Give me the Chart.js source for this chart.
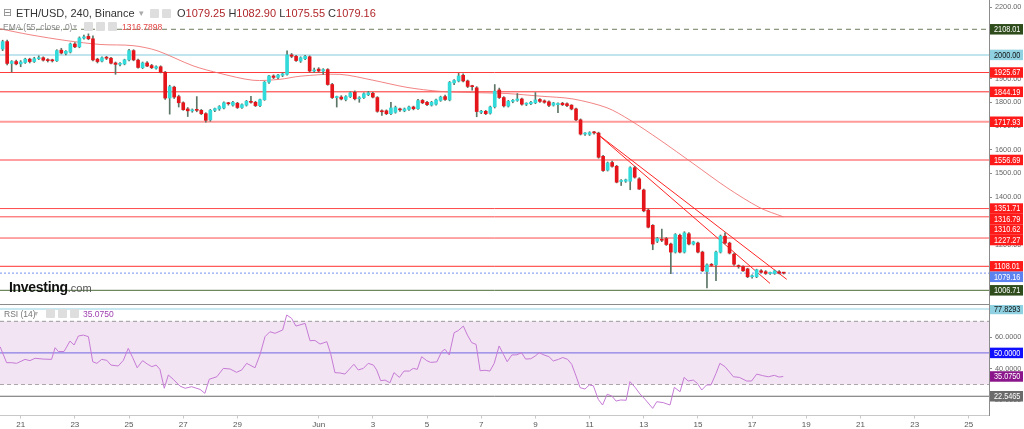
<!DOCTYPE html>
<html>
<head>
<meta charset="utf-8">
<script src="https://cdn.jsdelivr.net/npm/chart.js@4.4.1/dist/chart.umd.min.js"></script>
<style>
  html, body { margin:0; padding:0; background:#fff; }
  body { width:1024px; height:429px; overflow:hidden; position:relative; font-family:"Liberation Sans", Arial, sans-serif; }
  canvas { position:absolute; left:0; }
  #priceCanvas { top:0; }
  #rsiCanvas { top:305px; }
  #sep { position:absolute; left:0; top:304px; width:990px; height:1px; background:#8c8c8c; }
  .t { position:absolute; white-space:nowrap; line-height:1; }
  .ic { position:absolute; width:9px; height:9px; background:#dedede; border-radius:1px; }
</style>
</head>
<body>
<canvas id="priceCanvas" width="1024" height="304"></canvas>
<canvas id="rsiCanvas" width="1024" height="124"></canvas>
<div id="sep"></div>

<div class="t" style="left:3px;top:7px;font-size:11px;color:#888;font-family:'DejaVu Sans'">⊟</div>
<div class="t" style="left:16px;top:8px;font-size:11px;color:#333">ETH/USD, 240, Binance</div>
<div class="t" style="left:139px;top:9px;font-size:9px;color:#aaa">▾</div>
<div class="ic" style="left:150px;top:9px"></div>
<div class="ic" style="left:162px;top:9px"></div>
<div class="t" style="left:177px;top:8px;font-size:11px;color:#333">O<span style="color:#b0262a">1079.25</span> H<span style="color:#b0262a">1082.90</span> L<span style="color:#b0262a">1075.55</span> C<span style="color:#b0262a">1079.16</span></div>

<div class="t" style="left:3px;top:23px;font-size:8.5px;color:#888">EMA (55, close, 0)</div>
<div class="t" style="left:73px;top:23px;font-size:8px;color:#bbb">▾</div>
<div class="ic" style="left:84px;top:22px"></div>
<div class="ic" style="left:96px;top:22px"></div>
<div class="ic" style="left:108px;top:22px"></div>
<div class="t" style="left:122px;top:23px;font-size:8.5px;color:#e34545">1316.7898</div>

<div class="t" style="left:9px;top:280px;font-size:14px;font-weight:bold;color:#111;letter-spacing:-0.3px">Investing<span style="font-weight:normal;font-size:11px;color:#555;letter-spacing:0">.com</span></div>

<div class="t" style="left:4px;top:310px;font-size:8.5px;color:#777">RSI (14)</div>
<div class="t" style="left:34px;top:310px;font-size:8px;color:#bbb">▾</div>
<div class="ic" style="left:46px;top:309px"></div>
<div class="ic" style="left:58px;top:309px"></div>
<div class="ic" style="left:70px;top:309px"></div>
<div class="t" style="left:83px;top:310px;font-size:8.5px;color:#a040b0">35.0750</div>

<script>
// ---------- DATA ----------
// time unit: day of month counted from May (May 21 = 21, Jun 1 = 32)
const firstCandleDay = 20 + 8/24;   // May 20 08:00
const candleStep = 4/24;            // 240 minutes
const open = [
2025,2056,1964,1972,1962,1968,1982,1972,1984,1988,
1978,1976,1975,2020,2006,2012,2046,2034,2071,2078,
2068,1982,1974,1988,1986,1966,1960,1962,1979,2018,
1978,1946,1966,1955,1944,1950,1927,1818,1864,1824,
1798,1772,1764,1767,1766,1752,1726,1766,1772,1776,
1796,1788,1796,1778,1788,1802,1800,1786,1811,1885,
1911,1905,1914,1918,2000,1994,1974,1984,1992,1932,
1940,1932,1938,1875,1820,1822,1812,1824,1842,1815,
1820,1832,1838,1820,1762,1764,1752,1758,1770,1764,
1770,1780,1773,1808,1800,1788,1792,1808,1824,1810,
1882,1890,1914,1890,1868,1861,1758,1762,1754,1781,
1852,1820,1784,1804,1808,1814,1792,1794,1798,1812,
1806,1802,1788,1790,1796,1794,1788,1772,1726,1666,
1665,1672,1670,1572,1514,1546,1530,1466,1467,1467,
1524,1477,1430,1345,1281,1214,1220,1225,1202,1168,
1239,1168,1245,1202,1206,1168,1086,1114,1114,1168,
1235,1206,1159,1110,1107,1097,1064,1064,1089,1085,
1078,1078,1085,1079.25];
const high = [
2062,2062,1976,1978,1976,1986,1986,1990,1996,1992,
1984,1982,2022,2028,2018,2050,2052,2076,2084,2089,
2080,1986,1992,1994,1990,1970,1968,1982,2024,2022,
1982,1970,1972,1960,1954,1954,1930,1872,1868,1830,
1802,1778,1772,1824,1770,1756,1770,1776,1786,1802,
1800,1804,1800,1794,1808,1825,1804,1814,1888,1914,
1916,1918,1924,2017,2006,1998,1992,1998,1996,1944,
1946,1942,1942,1880,1826,1828,1828,1844,1848,1824,
1840,1846,1842,1824,1768,1768,1800,1784,1776,1776,
1784,1784,1812,1812,1804,1804,1814,1826,1830,1888,
1896,1922,1920,1894,1872,1866,1766,1766,1784,1875,
1860,1824,1808,1812,1837,1818,1798,1804,1841,1816,
1810,1806,1800,1798,1800,1798,1790,1776,1730,1672,
1676,1678,1674,1576,1548,1552,1534,1474,1476,1528,
1530,1482,1434,1350,1284,1230,1265,1230,1206,1246,
1244,1254,1250,1214,1210,1172,1118,1120,1172,1240,
1249,1210,1164,1114,1110,1100,1072,1096,1094,1090,
1084,1092,1090,1082.9];
const low = [
2018,1958,1928,1958,1950,1964,1966,1968,1980,1974,
1970,1970,1972,2004,2000,2008,2030,2030,2066,2064,
1975,1966,1970,1980,1962,1918,1954,1958,1975,1975,
1944,1942,1950,1942,1940,1924,1812,1750,1816,1780,
1766,1740,1758,1760,1748,1716,1720,1760,1766,1772,
1788,1784,1774,1774,1784,1796,1782,1782,1808,1880,
1900,1900,1908,1914,1988,1972,1968,1980,1928,1926,
1928,1918,1872,1816,1780,1810,1806,1820,1810,1800,
1816,1828,1818,1758,1745,1748,1748,1754,1762,1760,
1766,1768,1770,1794,1786,1784,1788,1804,1808,1806,
1874,1886,1886,1862,1851,1739,1752,1748,1750,1776,
1816,1780,1780,1798,1804,1788,1786,1790,1794,1800,
1796,1782,1784,1756,1786,1782,1768,1722,1662,1660,
1660,1666,1564,1508,1510,1526,1460,1449,1462,1431,
1480,1432,1338,1270,1178,1208,1212,1196,1077,1164,
1164,1164,1198,1198,1164,1086,1017,1108,1047,1164,
1202,1160,1112,1100,1086,1060,1058,1060,1080,1074,
1074,1074,1076,1075.55];
const close = [
2056,1964,1972,1962,1970,1982,1972,1984,1988,1978,
1976,1975,2018,2008,2015,2046,2034,2071,2076,2068,
1979,1972,1988,1986,1965,1960,1963,1979,2018,1979,
1947,1966,1953,1946,1950,1927,1818,1866,1822,1798,
1769,1764,1767,1766,1752,1724,1766,1773,1782,1798,
1794,1800,1778,1790,1804,1800,1786,1811,1885,1911,
1905,1915,1920,2000,1994,1976,1988,1994,1932,1936,
1932,1938,1875,1820,1822,1814,1824,1840,1815,1818,
1836,1840,1822,1762,1760,1752,1776,1778,1768,1772,
1780,1773,1807,1798,1790,1800,1810,1822,1812,1884,
1892,1911,1890,1867,1866,1761,1762,1752,1780,1847,
1820,1785,1804,1808,1814,1792,1794,1800,1810,1804,
1800,1787,1797,1795,1790,1786,1772,1726,1666,1667,
1672,1671,1568,1512,1544,1530,1463,1470,1473,1524,
1484,1434,1342,1273,1202,1225,1218,1200,1168,1242,
1168,1249,1202,1211,1168,1089,1114,1112,1168,1235,
1206,1164,1117,1107,1089,1064,1065,1093,1083,1078,
1079,1089,1079,1079.16];

const emaDays = [20.24,21.34,22.71,23.93,25.15,26.03,27.36,28.36,29.58,30.57,31.31,32.79,34.01,35.26,36.48,37.70,38.95,40.17,41.39,42.64,43.49,44.60,45.82,47.07,48.29,49.15];
const emaValues = [2110,2085,2060,2044,2039,2018,1954,1922,1893,1897,1910,1918,1893,1863,1846,1841,1837,1826,1814,1777,1725,1641,1542,1440,1355,1316.79];

const trendA_days = [42.26, 48.66];
const trendA_prices = [1669, 1036];
const trendB_days = [42.26, 49.28];
const trendB_prices = [1669, 1053];

const priceLevels = [2108.01, 2000.00, 1925.67, 1844.19, 1717.93, 1556.69, 1351.71, 1316.79, 1227.27, 1108.01, 1079.16, 1006.71];
const priceTags   = [2108.01, 2000.00, 1925.67, 1844.19, 1717.93, 1556.69, 1351.71, 1316.79, 1310.62, 1227.27, 1108.01, 1079.16, 1006.71];
const priceTicks  = [1000,1100,1200,1300,1400,1500,1600,1700,1800,1900,2000,2100,2200];

const rsiDays = [20.24,20.48,20.67,20.85,21.16,21.34,21.53,21.83,22.14,22.27,22.39,22.60,22.82,22.97,23.13,23.31,23.50,23.66,23.81,23.99,24.18,24.33,24.60,24.79,24.97,25.13,25.30,25.50,25.67,25.84,26.00,26.14,26.30,26.45,26.63,26.88,27.07,27.31,27.62,27.80,27.96,28.24,28.48,28.73,28.97,29.16,29.34,29.65,29.83,30.02,30.20,30.39,30.67,30.82,31.00,31.16,31.50,31.68,31.86,32.05,32.30,32.44,32.60,32.79,32.97,33.30,33.46,33.65,33.83,34.02,34.14,34.29,34.45,34.63,34.78,34.98,35.15,35.35,35.49,35.64,35.80,35.99,36.13,36.36,36.54,36.66,36.82,37.00,37.15,37.34,37.49,37.65,37.81,37.96,38.14,38.32,38.48,38.66,38.82,38.96,39.13,39.31,39.49,39.64,39.83,39.99,40.14,40.32,40.50,40.66,40.85,41.01,41.19,41.34,41.50,41.65,41.83,41.99,42.14,42.32,42.48,42.65,42.82,42.98,43.15,43.35,43.49,43.68,43.86,44.05,44.33,44.48,44.72,44.97,45.13,45.34,45.49,45.64,45.83,45.98,46.14,46.32,46.48,46.67,46.81,47.00,47.31,47.53,47.80,47.98,48.17,48.39,48.60,48.82,49.00,49.15];
const rsiValues = [53.9,43.8,43.8,43.4,45.9,45.1,46.6,46.1,45.9,53.3,50.9,50.9,57.5,55.0,60.7,61.3,60.3,44.4,43.4,45.9,45.3,42.3,41.7,45.3,52.9,47.2,40.6,45.1,43.0,41.3,42.3,39.6,27.6,36.0,33.3,29.0,27.6,28.6,26.9,24.4,33.3,34.9,40.2,39.8,37.7,39.2,43.4,40.6,48.7,60.3,63.4,62.4,64.5,74.0,71.9,67.0,68.7,57.7,57.9,55.6,57.1,49.7,37.5,37.3,36.6,42.8,39.2,40.2,43.4,42.3,39.2,32.4,32.8,31.1,37.5,34.5,38.5,38.5,40.2,39.6,47.6,45.1,44.0,44.3,50.8,52.3,48.7,62.8,64.1,67.0,61.3,56.5,55.4,38.7,39.0,38.5,43.4,54.4,49.1,44.4,48.7,48.8,50.1,46.1,46.3,48.0,50.1,48.7,47.6,44.9,45.9,47.1,45.9,42.8,35.4,28.0,27.1,29.7,29.2,20.6,17.0,23.8,22.7,19.5,20.2,20.0,31.8,28.2,24.0,20.6,14.9,19.1,18.5,17.0,28.2,25.4,34.5,32.2,32.8,30.7,26.5,29.7,29.7,37.1,43.4,41.3,34.9,34.5,32.2,32.2,36.6,35.6,34.9,35.8,34.7,35.075];

const rsiLevels = [77.8293, 70, 50, 30, 22.5465];
const rsiTags   = [77.8293, 50, 35.075, 22.5465];
const rsiTicks  = [20, 40, 60];

const tickDays   = [21,23,25,27,29,32,34,36,38,40,42,44,46,48,50,52,54,56];
const tickLabels = ['21','23','25','27','29','Jun','3','5','7','9','11','13','15','17','19','21','23','25'];

// ---------- STYLES ----------
const xMin = 20.236, xMax = 56.745;
const UP = '#33dada', DOWN = '#e4161c', WICK = '#5b7566';
const FONT = 'Liberation Sans';
const priceLevelStyle = [
  {c:'#6d7d5d', w:1,   d:[5,4]},
  {c:'#acdde9', w:1.5, d:[]},
  {c:'#ff3b3b', w:1,   d:[]},
  {c:'#ff2a2a', w:1,   d:[]},
  {c:'#ff9a9a', w:2,   d:[]},
  {c:'#ffa0a0', w:2,   d:[]},
  {c:'#ff4a4a', w:1,   d:[]},
  {c:'#ff4a4a', w:1,   d:[]},
  {c:'#ff4a4a', w:1,   d:[]},
  {c:'#ff3030', w:1,   d:[]},
  {c:'#a3b6f5', w:1.5, d:[2,2]},
  {c:'#4e6e3a', w:1,   d:[]}
];
const priceTagStyle = [
  {bg:'#2f4d1c', fg:'#fff'}, {bg:'#8fd1e1', fg:'#111'},
  {bg:'#ff1a1a', fg:'#fff'}, {bg:'#ff1a1a', fg:'#fff'}, {bg:'#ff1a1a', fg:'#fff'}, {bg:'#ff1a1a', fg:'#fff'},
  {bg:'#ff1a1a', fg:'#fff'}, {bg:'#ff1a1a', fg:'#fff'}, {bg:'#ff1a1a', fg:'#fff'}, {bg:'#ff1a1a', fg:'#fff'},
  {bg:'#ff1a1a', fg:'#fff'}, {bg:'#5b82f0', fg:'#fff'}, {bg:'#2f4d1c', fg:'#fff'}
];
const rsiLevelStyle = [
  {c:'#b5e0ec', w:1.5, d:[]},
  {c:'#9a9a9a', w:1,   d:[4,3]},
  {c:'#4646e6', w:1.2, d:[]},
  {c:'#9a9a9a', w:1,   d:[4,3]},
  {c:'#6a6a6a', w:1,   d:[]}
];
const rsiTagStyle = [
  {bg:'#8fd1e1', fg:'#111'}, {bg:'#1010ff', fg:'#fff'}, {bg:'#8b158b', fg:'#fff'}, {bg:'#6b6b6b', fg:'#fff'}
];

// ---------- HELPERS ----------
function tagPlugin(scaleId, values, styles, digits) {
  return {
    id: 'tags_' + scaleId,
    afterDraw(chart) {
      const s = chart.scales[scaleId], ctx = chart.ctx, h = 10.5;
      const items = values.map((v, i) => ({v, st: styles[i], y: s.getPixelForValue(v)}))
                          .sort((a, b) => a.y - b.y);
      for (let i = 1; i < items.length; i++) {
        if (items[i].y - items[i-1].y < h) items[i].y = items[i-1].y + h;
      }
      ctx.save();
      ctx.textBaseline = 'middle';
      ctx.textAlign = 'left';
      const x0 = chart.chartArea.right + 1;
      items.forEach(it => {
        ctx.fillStyle = it.st.bg;
        ctx.fillRect(x0, it.y - h/2, chart.width - x0 - 1, h);
        ctx.fillStyle = it.st.fg;
        ctx.save();
        ctx.translate(x0 + 4, it.y + 0.5);
        ctx.scale(0.86, 1);
        ctx.font = '8.5px ' + FONT;
        ctx.fillText(it.v.toFixed(digits), 0, 0);
        ctx.restore();
      });
      ctx.restore();
    }
  };
}
function levelDatasets(levels, styles, yAxisID) {
  return levels.map((v, i) => ({
    type: 'line', yAxisID, order: 5,
    data: [{x: xMin, y: v}, {x: xMax, y: v}],
    borderColor: styles[i].c, borderWidth: styles[i].w, borderDash: styles[i].d,
    pointRadius: 0, fill: false
  }));
}
function yAxisBase(extra) {
  return Object.assign({
    type: 'linear', position: 'right',
    grid: { drawOnChartArea: false, drawTicks: true, tickLength: 3, color: '#8c8c8c' },
    border: { display: true, color: '#8c8c8c' },
    afterFit(s) { s.width = 35; s.paddingTop = 0; s.paddingBottom = 0; }
  }, extra);
}

// ---------- PRICE CHART ----------
const days = open.map((_, i) => firstCandleDay + i * candleStep);
const bodyColors = close.map((c, i) => c >= open[i] ? UP : DOWN);

new Chart(document.getElementById('priceCanvas'), {
  type: 'bar',
  data: {
    datasets: [
      { type: 'bar', yAxisID: 'y', order: 0, grouped: false,
        data: days.map((d, i) => ({x: d, y: [open[i], close[i]]})),
        backgroundColor: bodyColors, borderWidth: 0, barThickness: 3, minBarLength: 1 },
      { type: 'bar', yAxisID: 'y', order: 1, grouped: false,
        data: days.map((d, i) => ({x: d, y: [low[i], high[i]]})),
        backgroundColor: WICK, borderWidth: 0, barThickness: 1, minBarLength: 1 },
      { type: 'line', yAxisID: 'y', order: 2,
        data: emaDays.map((d, i) => ({x: d, y: emaValues[i]})),
        borderColor: 'rgba(240,110,110,0.85)', borderWidth: 1, pointRadius: 0, fill: false, tension: 0.3 },
      { type: 'line', yAxisID: 'y', order: 2,
        data: trendA_days.map((d, i) => ({x: d, y: trendA_prices[i]})),
        borderColor: '#ff2424', borderWidth: 1, pointRadius: 0, fill: false },
      { type: 'line', yAxisID: 'y', order: 2,
        data: trendB_days.map((d, i) => ({x: d, y: trendB_prices[i]})),
        borderColor: '#ff2424', borderWidth: 1, pointRadius: 0, fill: false },
      ...levelDatasets(priceLevels, priceLevelStyle, 'y')
    ]
  },
  options: {
    responsive: false, animation: false, events: [],
    layout: { padding: 0 },
    plugins: { legend: { display: false }, tooltip: { enabled: false } },
    scales: {
      x: { type: 'linear', min: xMin, max: xMax, offset: false, display: false },
      y: yAxisBase({
        min: 949, max: 2231.6,
        afterBuildTicks(s) { s.ticks = priceTicks.map(v => ({value: v})); },
        ticks: { callback: v => Number(v).toFixed(2), color: '#666', font: {family: FONT, size: 7.3}, padding: 3 }
      })
    }
  },
  plugins: [tagPlugin('y', priceTags, priceTagStyle, 2)]
});

// ---------- RSI CHART ----------
const rsiLevelSets = levelDatasets(rsiLevels, rsiLevelStyle, 'y');
rsiLevelSets[1].fill = {target: 3};
rsiLevelSets[1].backgroundColor = 'rgba(226,196,226,0.45)';

new Chart(document.getElementById('rsiCanvas'), {
  type: 'line',
  data: {
    datasets: [
      ...rsiLevelSets,
      { type: 'line', yAxisID: 'y', order: 0,
        data: rsiDays.map((d, i) => ({x: d, y: rsiValues[i]})),
        borderColor: '#c67bd6', borderWidth: 1, pointRadius: 0, fill: false, tension: 0 }
    ]
  },
  options: {
    responsive: false, animation: false, events: [],
    layout: { padding: 0 },
    plugins: { legend: { display: false }, tooltip: { enabled: false } },
    scales: {
      x: {
        type: 'linear', min: xMin, max: xMax, offset: false,
        afterBuildTicks(s) { s.ticks = tickDays.map(v => ({value: v})); },
        afterFit(s) { s.height = 13.5; s.paddingLeft = 0; s.paddingRight = 0; },
        ticks: { callback: (v, i) => tickLabels[i], autoSkip: false, maxRotation: 0,
                 color: '#555', font: {family: FONT, size: 8}, padding: 1 },
        grid: { drawOnChartArea: false, drawTicks: true, tickLength: 3, color: '#c8c8c8' },
        border: { display: true, color: '#c8c8c8' }
      },
      y: yAxisBase({
        min: 10.36, max: 80.34,
        afterBuildTicks(s) { s.ticks = rsiTicks.map(v => ({value: v})); },
        ticks: { callback: v => Number(v).toFixed(4), color: '#666', font: {family: FONT, size: 7.3}, padding: 3 }
      })
    }
  },
  plugins: [tagPlugin('y', rsiTags, rsiTagStyle, 4)]
});
</script>
</body>
</html>
